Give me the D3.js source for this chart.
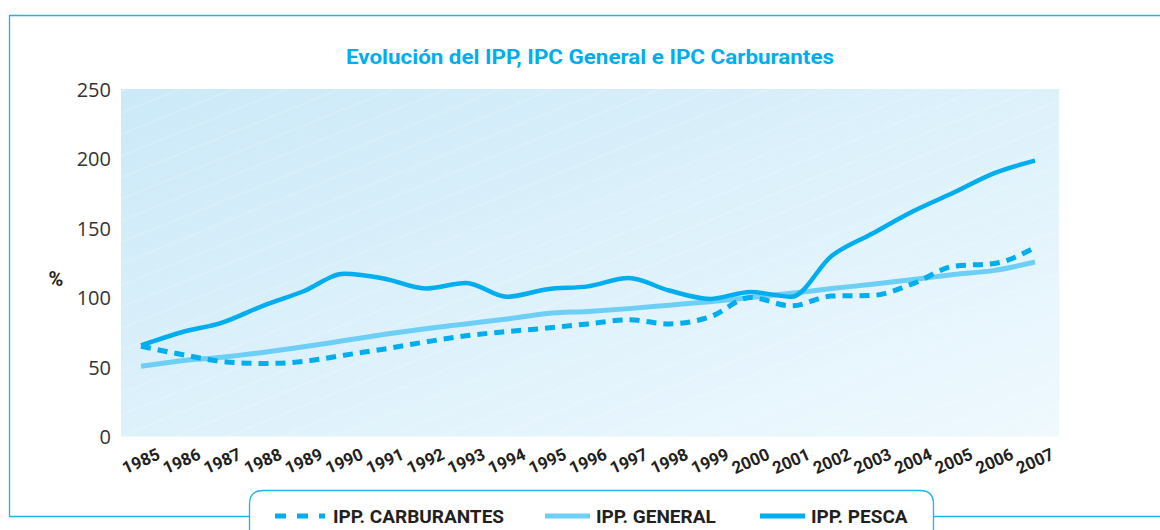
<!DOCTYPE html>
<html>
<head>
<meta charset="utf-8">
<script src="https://cdn.jsdelivr.net/npm/d3@7"></script>
<style>
  body { margin: 0; background: #fff; }
  svg { display: block; }
</style>
</head>
<body>
<div id="chart"></div>
<script>
const years = [1985, 1986, 1987, 1988, 1989, 1990, 1991, 1992, 1993, 1994, 1995, 1996,
  1997, 1998, 1999, 2000, 2001, 2002, 2003, 2004, 2005, 2006, 2007];

const ippCarburantes = [65, 59, 54, 52.5, 54, 58.5, 63, 68, 72.5, 75.5, 78, 81,
  84, 81, 86, 100, 94, 101, 101.5, 110, 122.5, 124.5, 136];
const ippGeneral = [50.5, 54.5, 57, 60.5, 64.5, 69, 73.5, 77.5, 81, 84.5, 88.5, 90,
  92, 94.5, 97, 100, 103, 106.5, 109.5, 113, 116.5, 119.5, 125.5];
const ippPesca = [65.5, 75, 82, 94, 104.5, 117, 113.5, 106.5, 110.5, 100.5, 106, 108,
  114, 105, 99, 104, 100.5, 130, 146, 162, 175.5, 189.5, 198.5];

const yTicks = [0, 50, 100, 150, 200, 250];

const seriesList = [
  { name: 'IPP. CARBURANTES', values: ippCarburantes, color: '#00aeef', width: 5, dash: '10,7' },
  { name: 'IPP. GENERAL', values: ippGeneral, color: '#6dcff6', width: 5, dash: null },
  { name: 'IPP. PESCA', values: ippPesca, color: '#00aeef', width: 4.5, dash: null }
];

const width = 1160;
const height = 530;
const plot = { left: 121, right: 1059, top: 89, bottom: 436.5 };

const svg = d3.select('#chart')
  .append('svg')
  .attr('width', width)
  .attr('height', height);

const defs = svg.append('defs');

const grad = defs.append('linearGradient')
  .attr('id', 'bg')
  .attr('x1', '0%').attr('y1', '0%')
  .attr('x2', '100%').attr('y2', '100%');
grad.append('stop').attr('offset', '0%').attr('stop-color', '#cbe9f8');
grad.append('stop').attr('offset', '100%').attr('stop-color', '#eff9fe');

const stripes = defs.append('pattern')
  .attr('id', 'stripes')
  .attr('patternUnits', 'userSpaceOnUse')
  .attr('width', 60)
  .attr('height', 20)
  .attr('patternTransform', 'rotate(-22)');
stripes.append('line')
  .attr('x1', 0).attr('y1', 10).attr('x2', 60).attr('y2', 10)
  .attr('stroke', '#ffffff')
  .attr('stroke-opacity', 0.35)
  .attr('stroke-width', 0.8);

// outer frame
const frameColor = '#1fb3ec';
svg.append('path')
  .attr('d', `M${width},15.5 H9.5 V516.5 H${width}`)
  .attr('fill', 'none')
  .attr('stroke', frameColor)
  .attr('stroke-width', 1.3);

svg.append('text')
  .attr('x', 590)
  .attr('y', 64)
  .attr('text-anchor', 'middle')
  .attr('font-family', 'Roboto, "Liberation Sans", sans-serif')
  .attr('font-weight', 700)
  .attr('font-size', 21)
  .attr('textLength', 488)
  .attr('lengthAdjust', 'spacingAndGlyphs')
  .attr('fill', '#00aeef')
  .text('Evolución del IPP, IPC General e IPC Carburantes');

svg.append('rect')
  .attr('x', plot.left).attr('y', plot.top)
  .attr('width', plot.right - plot.left)
  .attr('height', plot.bottom - plot.top)
  .attr('fill', 'url(#bg)');
svg.append('rect')
  .attr('x', plot.left).attr('y', plot.top)
  .attr('width', plot.right - plot.left)
  .attr('height', plot.bottom - plot.top)
  .attr('fill', 'url(#stripes)');

const x = d3.scalePoint()
  .domain(years)
  .range([141, 1035]);

const y = d3.scaleLinear()
  .domain([0, 250])
  .range([plot.bottom, plot.top]);

const yAxis = d3.axisLeft(y)
  .tickValues(yTicks)
  .tickSize(0)
  .tickPadding(0);

const gy = svg.append('g')
  .attr('transform', `translate(111,0)`)
  .call(yAxis);
gy.select('.domain').remove();
gy.selectAll('text')
  .attr('font-family', '"Open Sans", sans-serif')
  .attr('font-size', 20)
  .attr('fill', '#333')
  .attr('dy', '0.35em');

svg.append('text')
  .attr('x', 56)
  .attr('y', 286)
  .attr('text-anchor', 'middle')
  .attr('font-family', 'Roboto, sans-serif')
  .attr('font-weight', 700)
  .attr('font-size', 20)
  .attr('fill', '#231f20')
  .text('%');

const xAxis = d3.axisBottom(x)
  .tickSize(0)
  .tickPadding(0);

const gx = svg.append('g')
  .call(xAxis);
gx.select('.domain').remove();
gx.selectAll('.tick')
  .attr('transform', d => `translate(${x(d)},461)`);
gx.selectAll('text')
  .attr('y', 0)
  .attr('dy', '0.35em')
  .attr('transform', 'rotate(-24)')
  .attr('text-anchor', 'middle')
  .attr('font-family', 'Roboto, sans-serif')
  .attr('font-weight', 700)
  .attr('font-size', 17)
  .attr('fill', '#231f20');

const line = d3.line()
  .x((d, i) => x(years[i]))
  .y(d => y(d))
  .curve(d3.curveMonotoneX);

const drawOrder = [seriesList[1], seriesList[0], seriesList[2]];
svg.append('g')
  .selectAll('path')
  .data(drawOrder)
  .enter()
  .append('path')
  .attr('d', d => line(d.values))
  .attr('fill', 'none')
  .attr('stroke', d => d.color)
  .attr('stroke-width', d => d.width)
  .attr('stroke-dasharray', d => d.dash)
  .attr('stroke-linejoin', 'round');

// legend box
svg.append('path')
  .attr('d', 'M249.5,530 V504 Q249.5,490.5 263,490.5 H920 Q933.5,490.5 933.5,504 V530')
  .attr('fill', '#fff')
  .attr('stroke', frameColor)
  .attr('stroke-width', 1.3);

const legendX = [275, 545, 760];
const legend = svg.append('g')
  .selectAll('g')
  .data(seriesList)
  .enter()
  .append('g')
  .attr('transform', (d, i) => `translate(${legendX[i]},516)`);

legend.append('line')
  .attr('x1', 0).attr('x2', d => d.dash ? 50 : 45)
  .attr('stroke', d => d.color)
  .attr('stroke-width', 5)
  .attr('stroke-dasharray', d => d.dash ? '11,11' : null);

legend.append('text')
  .attr('x', d => d.dash ? 58 : 51)
  .attr('dy', '0.36em')
  .attr('font-family', 'Roboto, sans-serif')
  .attr('font-weight', 700)
  .attr('font-size', 19)
  .attr('fill', '#231f20')
  .text(d => d.name);
</script>
</body>
</html>
